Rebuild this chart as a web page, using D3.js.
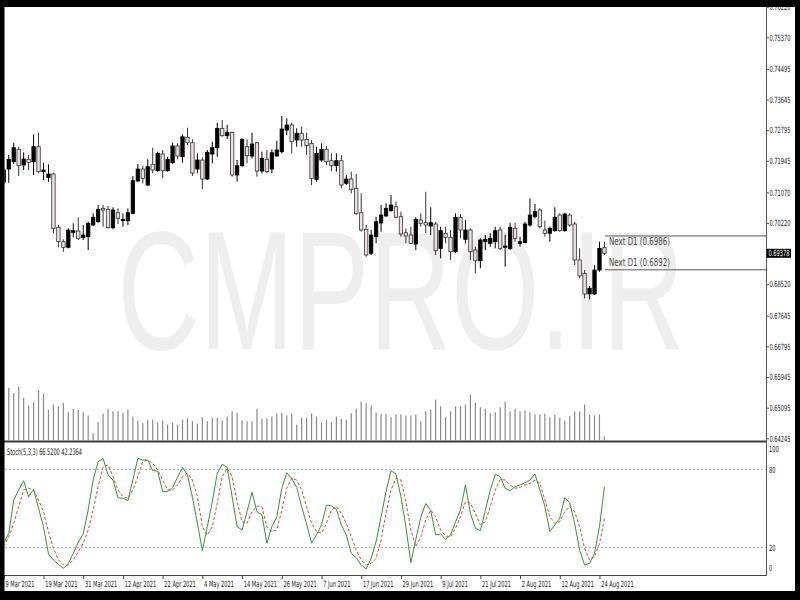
<!DOCTYPE html>
<html><head><meta charset="utf-8">
<script src="https://cdn.jsdelivr.net/npm/d3@7"></script>
<style>
html,body{margin:0;padding:0;background:#fff;}
svg{display:block;}
text{font-family:"DejaVu Sans",sans-serif;}
</style></head><body>
<svg id="c" width="800" height="600"></svg>
<script>
// ---------- DATA (NZDUSD daily, 9 Mar 2021 .. 25 Aug 2021) ----------
const openP = [0.71356,0.71716,0.71919,0.72263,0.71827,0.71986,0.71919,0.72335,0.71642,0.71486,
0.71578,0.70099,0.69700,0.69544,0.69960,0.69996,0.69822,0.69838,0.70163,0.70254,
0.70626,0.70598,0.70088,0.70504,0.70282,0.70282,0.70487,0.71383,0.71716,0.71273,
0.71847,0.71669,0.72133,0.71669,0.71891,0.72355,0.72058,0.72596,0.72446,0.71716,
0.71966,0.71439,0.72133,0.72307,0.72845,0.72640,0.72735,0.71550,0.71808,0.72335,
0.72077,0.72446,0.71661,0.71986,0.71716,0.72077,0.72196,0.72798,0.72937,0.72521,
0.72707,0.72540,0.72429,0.71431,0.71966,0.72263,0.71947,0.71808,0.71947,0.71320,
0.71439,0.71181,0.70504,0.70043,0.69378,0.69838,0.70218,0.70413,0.70560,0.70671,
0.70393,0.69949,0.69885,0.69636,0.70302,0.70227,0.70135,0.70191,0.69516,0.69932,
0.69822,0.69422,0.70377,0.69766,0.70024,0.69469,0.69172,0.69700,0.69655,0.69700,
0.70024,0.69544,0.69516,0.70071,0.69655,0.69672,0.70163,0.70393,0.70579,0.70024,
0.69932,0.70005,0.70440,0.70005,0.70440,0.70191,0.69192,0.68823,0.68249,0.68249,
0.68914,0.69533];
const highP = [0.71827,0.72105,0.72446,0.72335,0.72180,0.72105,0.72679,0.72723,0.71891,0.71847,
0.71614,0.70163,0.69766,0.70071,0.70210,0.70377,0.70163,0.70254,0.70487,0.70718,
0.70718,0.70690,0.70654,0.70626,0.70487,0.70626,0.71522,0.71855,0.71808,0.71986,
0.72307,0.72196,0.72244,0.72058,0.72446,0.72429,0.72679,0.72862,0.72540,0.72152,
0.72041,0.72244,0.72474,0.73001,0.73076,0.72937,0.72751,0.71966,0.72568,0.72540,
0.72723,0.72474,0.72196,0.72244,0.72263,0.72502,0.73187,0.73123,0.73001,0.72846,
0.72890,0.72723,0.72521,0.72335,0.72429,0.72355,0.72152,0.72152,0.72105,0.71550,
0.71642,0.71578,0.71042,0.70163,0.70024,0.70393,0.70718,0.70765,0.70995,0.70810,
0.70532,0.70071,0.70116,0.70377,0.70487,0.71087,0.70654,0.70254,0.70116,0.70116,
0.70024,0.70487,0.70468,0.70302,0.70071,0.69561,0.69794,0.69885,0.69932,0.70116,
0.70116,0.69885,0.70227,0.70227,0.69838,0.70254,0.70903,0.70745,0.70626,0.70282,
0.70116,0.70654,0.70487,0.70504,0.70487,0.70254,0.69516,0.68914,0.68471,0.69053,
0.69700,0.69700];
const lowP = [0.71134,0.71336,0.71855,0.71522,0.71689,0.71689,0.71550,0.71597,0.71411,0.71364,
0.69932,0.69544,0.69422,0.69516,0.69822,0.69747,0.69747,0.69469,0.70135,0.70227,
0.70116,0.70071,0.70043,0.70191,0.70116,0.70163,0.70468,0.71364,0.71320,0.71245,
0.71597,0.71642,0.71458,0.71642,0.71855,0.71986,0.71891,0.72382,0.71522,0.71597,
0.71153,0.71411,0.71874,0.72058,0.72613,0.72549,0.71503,0.71364,0.71780,0.71874,
0.72013,0.71503,0.71597,0.71597,0.71597,0.72058,0.72152,0.72660,0.72152,0.72335,
0.72335,0.72105,0.71273,0.71364,0.71919,0.71827,0.71661,0.71642,0.71181,0.71273,
0.71042,0.70440,0.69977,0.69284,0.69331,0.69655,0.69977,0.70393,0.70532,0.70349,
0.69838,0.69655,0.69636,0.69469,0.70116,0.69932,0.69885,0.69331,0.69239,0.69655,
0.69192,0.69378,0.69794,0.69655,0.69192,0.68823,0.68962,0.69469,0.69561,0.69516,
0.69469,0.69006,0.69469,0.69700,0.69561,0.69655,0.70116,0.70349,0.70071,0.69838,
0.69700,0.69977,0.69977,0.69977,0.70116,0.69053,0.68684,0.68129,0.68101,0.68221,
0.68867,0.69331];
const closeP = [0.71689,0.71986,0.72307,0.71808,0.71994,0.71902,0.72335,0.71642,0.71689,0.71578,
0.70071,0.69700,0.69544,0.70024,0.70005,0.69794,0.69885,0.70210,0.70377,0.70598,
0.70579,0.70088,0.70579,0.70349,0.70321,0.70504,0.71392,0.71716,0.71458,0.71780,
0.71689,0.72152,0.71669,0.71986,0.72355,0.72077,0.72613,0.72446,0.71605,0.71966,
0.71439,0.72180,0.72307,0.72845,0.72640,0.72735,0.71550,0.71808,0.72540,0.72085,
0.72410,0.71661,0.72013,0.71642,0.72169,0.72244,0.72826,0.72937,0.72474,0.72707,
0.72521,0.72363,0.71458,0.72152,0.72263,0.71919,0.71808,0.71947,0.71273,0.71439,
0.71153,0.70487,0.70024,0.69331,0.69885,0.70254,0.70440,0.70626,0.70718,0.70377,
0.69913,0.69858,0.69655,0.70321,0.70210,0.70163,0.70227,0.69450,0.70005,0.69822,
0.69422,0.70377,0.70024,0.70024,0.69422,0.69172,0.69747,0.69766,0.69794,0.70005,
0.69516,0.69580,0.70099,0.69794,0.69700,0.70191,0.70440,0.70532,0.70116,0.69932,
0.70071,0.70377,0.70005,0.70468,0.70163,0.69192,0.68748,0.68249,0.68407,0.68914,
0.69516,0.69378];
const volume = [45000,52700,47300,54000,42700,35000,38300,50700,46700,30700,
36000,34300,37700,28300,31700,30700,28300,25000,7300,18300,
26700,31700,29300,29300,27700,30700,24000,20000,17700,20700,
21000,17700,20000,15700,17700,15700,20700,22300,19300,16700,
23300,19300,22700,22700,20000,24000,29300,27700,20000,19300,
19300,31700,21700,22300,24000,27300,27700,25000,26700,16000,
22700,22700,27000,24000,18300,20700,18300,24000,21700,20700,
27300,31700,39000,37300,35000,27700,26700,26700,23300,26000,
26000,25000,25000,26000,19300,29300,30700,41000,34300,23300,
29000,34000,34300,36000,45700,37700,33300,31700,27300,28300,
33300,39000,29300,31700,29000,30000,28300,26000,26000,26700,
23300,25700,22700,20000,24300,29300,29000,36000,25700,25000,
26000,4300];
const stochK = [23.4,31,56.5,64.2,71.3,59,64.7,50.2,36.1,15.2,
10.6,7.3,4.2,8,15.7,24.1,30.5,48.9,71.8,85.8,
88.4,75.7,71.8,58.3,57.8,56,71.8,88.4,87.1,87.1,
79,78.7,62.9,62.9,66.2,73.9,81.5,75.7,58.6,38.7,
17.7,36.1,55.2,76.9,83.8,81.5,59,36.1,33.5,47.6,
62.4,47.6,45,23.4,36.1,43.7,65.5,77.4,73.1,66.2,
51.4,38.1,23.4,30,37.4,52.7,51.9,49.4,37.4,29.7,
15.6,12.3,6.7,3.7,11.8,24.6,43.7,62.9,79,76.4,
59.1,36.1,8.5,26.4,43.2,53.9,48.3,29.7,30.5,26.4,
29.7,39.9,48.9,68,46.3,34.8,33,48.3,64.2,76.2,
74.4,65.4,63.6,66.7,68,69.8,71.8,76.4,64.2,51.5,
32.3,37.4,42.5,58.3,54.5,38.6,18.2,6.7,8,15.7,
36.1,66.52];
const stochD = [20.8,28.4,38.6,51.4,64.2,65.5,64.2,56.5,47.5,32.2,
19.5,10.6,6.7,6.7,10.6,16.9,23.3,33.5,48.9,66.7,
82,83.3,74.4,64.2,59.1,57.8,64.2,74.4,85.9,87.1,
84.6,79.5,71.8,64.2,64.2,68,74.4,76.9,71.8,59.1,
36.1,29.7,36.1,53.9,74.4,80.8,74.4,55.2,39.9,38.6,
47.6,51.9,51.4,36.1,32.3,33.5,48.9,65.5,73.1,71.8,
64.2,51.4,38.6,32.3,31,38.6,48.9,51.4,46.3,38.6,
28.4,18.2,10.6,6.7,8,11.8,25.9,46.3,64.2,73.1,
71.8,55.2,33.5,20.8,28.4,41.2,48.9,43.8,33.5,28.9,
28.4,34.8,43.8,55.2,54,46.3,37.4,39.9,51.4,64.2,
72.3,71.8,68,65.5,66.2,68,69.3,71.8,69.3,56.5,
43.8,38.6,39.9,47.6,51.4,47.6,36.1,19.5,10.6,13.1,
23.3,42.2364];
const priceTicks = [0.76220,0.75370,0.74495,0.73645,0.72795,0.71945,0.71070,0.70220,0.68520,0.67645,0.66795,0.65945,0.65095,0.64245];
const dateTickIdx = [0,8,16,24,32,40,48,56,64,72,80,88,96,104,112,120];
const dateTickLabels = ["9 Mar 2021","19 Mar 2021","31 Mar 2021","12 Apr 2021","22 Apr 2021","4 May 2021","14 May 2021","26 May 2021","7 Jun 2021","17 Jun 2021","29 Jun 2021","9 Jul 2021","21 Jul 2021","2 Aug 2021","12 Aug 2021","24 Aug 2021"];
const stochTicks = [100,80,20,0];
const stochLevels = [80,20];
const nextD1 = [0.6986,0.6892];
const lastPrice = 0.69378;
const stochHeader = "Stoch(5,3,3) 66.5200 42.2364";
const watermark = "CMPRO.IR";

// ---------- SCALES ----------
const svg = d3.select("#c");
const n = openP.length;
const x = d3.scaleLinear().domain([0, 121]).range([3.8, 3.8 + 121 * 4.964]);
const yP = d3.scaleLinear().domain([0.64245, 0.76220]).range([438.3, 6.7]);
const yV = d3.scaleLinear().domain([0, 60000]).range([440.5, 380.5]);
const yS = d3.scaleLinear().domain([0, 100]).range([573.8, 443.2]);
const AX = 766.5;

// horizontal squeeze via transform (the reference is horizontally compressed)
function squeeze(sel, k) {
  sel.each(function () {
    const t = d3.select(this);
    const x0 = +t.attr("x") || 0;
    const y0 = +t.attr("y") || 0;
    t.attr("x", 0).attr("y", 0).attr("transform", `translate(${x0},${y0}) scale(${k},1)`);
  });
}
function fitWidth(sel, w) {
  sel.each(function () {
    const nat = this.getComputedTextLength();
    squeeze(d3.select(this), w / nat);
  });
}

svg.append("rect").attr("width", 800).attr("height", 600).attr("fill", "#fff");

const defs = svg.append("defs");
defs.append("clipPath").attr("id", "mainClip").append("rect")
  .attr("x", 4.5).attr("y", 7).attr("width", AX - 4.5).attr("height", 433.5);
defs.append("clipPath").attr("id", "stClip").append("rect")
  .attr("x", 4.5).attr("y", 443).attr("width", AX - 4.5).attr("height", 132);

// watermark
const wm = svg.append("text").attr("x", 117.5).attr("y", 348.5)
  .style("font-family", "'Liberation Sans', Arial, sans-serif")
  .attr("font-size", 168).attr("fill", "#eeeeee")
  .text(watermark);
fitWidth(wm, 567);

// ---------- MAIN PANEL ----------
const main = svg.append("g").attr("clip-path", "url(#mainClip)");
const idx = d3.range(n);

// volume
main.append("g").selectAll("line").data(idx).join("line")
  .attr("x1", i => x(i)).attr("x2", i => x(i))
  .attr("y1", yV(0)).attr("y2", i => yV(volume[i]))
  .attr("stroke", "#8a8a8a").attr("stroke-width", 1.2);

// candles
const cg = main.append("g");
cg.selectAll("line").data(idx).join("line")
  .attr("x1", i => x(i)).attr("x2", i => x(i))
  .attr("y1", i => yP(highP[i])).attr("y2", i => yP(lowP[i]))
  .attr("stroke", i => closeP[i] >= openP[i] ? "#000" : "#333").attr("stroke-width", 1);
cg.selectAll("rect").data(idx).join("rect")
  .attr("x", i => x(i) - 1.7).attr("width", 3.4)
  .attr("y", i => yP(Math.max(openP[i], closeP[i])))
  .attr("height", i => Math.max(1, yP(Math.min(openP[i], closeP[i])) - yP(Math.max(openP[i], closeP[i]))))
  .attr("fill", i => closeP[i] >= openP[i] ? "#000" : "#eee0e0")
  .attr("stroke", i => closeP[i] >= openP[i] ? "#000" : "#333")
  .attr("stroke-width", 0.8);

// Next D1 lines
nextD1.forEach((v, k) => {
  svg.append("line").attr("x1", 605).attr("x2", AX)
    .attr("y1", yP(v)).attr("y2", yP(v))
    .attr("stroke", "#5a5a5a").attr("stroke-width", 1);
  const t = svg.append("text").attr("x", 609)
    .attr("y", k === 0 ? yP(v) + 9.5 : yP(v) - 3.5)
    .attr("font-size", 10).attr("fill", "#444")
    .text("Next D1 (" + v.toFixed(4) + ")");
  fitWidth(t, 61);
});

// ---------- STOCH PANEL ----------
const st = svg.append("g").attr("clip-path", "url(#stClip)");
st.selectAll("line.lvl").data(stochLevels).join("line").attr("class", "lvl")
  .attr("x1", 5).attr("x2", AX).attr("y1", d => yS(d)).attr("y2", d => yS(d))
  .attr("stroke", "#b0b0b0").attr("stroke-width", 1).attr("stroke-dasharray", "2,2");
st.append("path").datum(stochD)
  .attr("d", d3.line().x((d, i) => x(i)).y(d => yS(d)))
  .attr("fill", "none").attr("stroke", "#e8453c").attr("stroke-width", 1).attr("stroke-dasharray", "3,2");
st.append("path").datum(stochK)
  .attr("d", d3.line().x((d, i) => x(i)).y(d => yS(d)))
  .attr("fill", "none").attr("stroke", "#33963a").attr("stroke-width", 1);

const sh = svg.append("text").attr("x", 7).attr("y", 454.5).attr("font-size", 9).attr("fill", "#222")
  .text(stochHeader);
fitWidth(sh, 75);

// ---------- FRAME LINES ----------
svg.append("rect").attr("x", 0).attr("y", 440.5).attr("width", AX).attr("height", 2).attr("fill", "#3c3c3c");
svg.append("line").attr("x1", 0).attr("x2", AX + 0.5).attr("y1", 575.5).attr("y2", 575.5).attr("stroke", "#444");
svg.append("line").attr("x1", AX).attr("x2", AX).attr("y1", 7).attr("y2", 576).attr("stroke", "#555");

// ---------- AXES ----------
const pa = svg.append("g").attr("transform", `translate(${AX},0)`)
  .call(d3.axisRight(yP).tickValues(priceTicks).tickSize(2.5).tickPadding(0.5).tickFormat(d3.format(".5f")));
pa.select(".domain").remove();
pa.selectAll("line").attr("stroke", "#555");
pa.selectAll("text").attr("font-size", 8.5).attr("fill", "#222").style("font-family", "DejaVu Sans");
squeeze(pa.selectAll("text"), 0.6);

// current price box
svg.append("rect").attr("x", AX).attr("y", yP(lastPrice) - 4.5).attr("width", 24.5).attr("height", 9).attr("fill", "#000");
const lp = svg.append("text").attr("x", AX + 2).attr("y", yP(lastPrice) + 3.2)
  .attr("font-size", 8.5).attr("fill", "#fff").text(d3.format(".5f")(lastPrice));
squeeze(lp, 0.6);

const sa = svg.append("g").attr("transform", `translate(${AX},0)`)
  .call(d3.axisRight(yS).tickValues(stochTicks).tickSize(0).tickPadding(2.5).tickFormat(d3.format("d")));
sa.select(".domain").remove();
sa.selectAll("text").attr("font-size", 8.5).attr("fill", "#222").style("font-family", "DejaVu Sans")
  .attr("y", d => d === 100 ? 5.8 : d === 0 ? -5.8 : 0);
squeeze(sa.selectAll("text"), 0.6);

const da = svg.append("g").attr("transform", "translate(0,575.5)")
  .call(d3.axisBottom(x).tickValues(dateTickIdx).tickSize(3.5).tickPadding(1.5)
    .tickFormat((d, k) => dateTickLabels[k]));
da.select(".domain").remove();
da.selectAll("line").attr("stroke", "#444");
da.selectAll("text").attr("text-anchor", "start").attr("x", 1.2)
  .attr("font-size", 8.5).attr("fill", "#222").style("font-family", "DejaVu Sans");
squeeze(da.selectAll("text"), 0.6);

// ---------- OUTER BLACK FRAME ----------
svg.append("rect").attr("x", 0).attr("y", 0).attr("width", 800).attr("height", 7).attr("fill", "#000");
svg.append("rect").attr("x", 0).attr("y", 0).attr("width", 4.5).attr("height", 600).attr("fill", "#000");
svg.append("rect").attr("x", 795).attr("y", 0).attr("width", 5).attr("height", 600).attr("fill", "#000");
svg.append("rect").attr("x", 0).attr("y", 591).attr("width", 800).attr("height", 9).attr("fill", "#000");
</script>
</body></html>
